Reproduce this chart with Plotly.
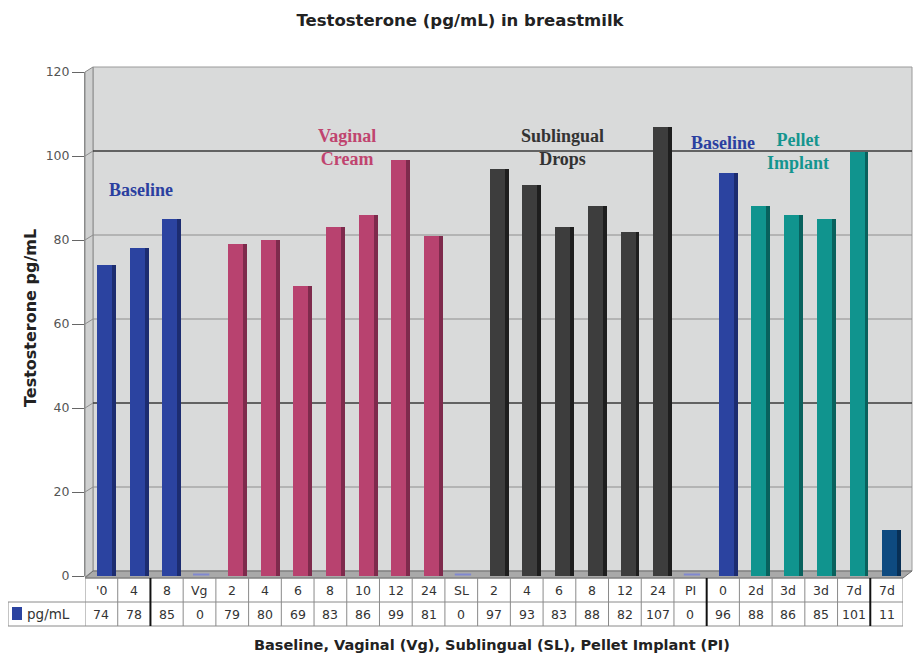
import plotly.graph_objects as go

# ---------------- data ----------------
categories = ["'0", "4", "8", "Vg", "2", "4", "6", "8", "10", "12", "24", "SL",
              "2", "4", "6", "8", "12", "24", "PI", "0", "2d", "3d", "3d", "7d", "7d"]
values = [74, 78, 85, 0, 79, 80, 69, 83, 86, 99, 81, 0,
          97, 93, 83, 88, 82, 107, 0, 96, 88, 86, 85, 101, 11]
groups = (["base"] * 3 + ["vg"] * 8 + ["sl"] * 7 + ["pi"] + ["base"] + ["pel"] * 4 + ["late"])
y_ticks = [0, 20, 40, 60, 80, 100, 120]
series_name = "pg/mL"
title_text = "Testosterone (pg/mL) in breastmilk"
x_title = "Baseline, Vaginal (Vg), Sublingual (SL), Pellet Implant (PI)"
y_title = "Testosterone pg/mL"

# ---------------- style ----------------
front_col = {"base": "#2b43a0", "vg": "#b8426f", "sl": "#3d3d3d", "pi": "#7a84c8",
             "pel": "#10948e", "late": "#0e4a80"}
side_col = {"base": "#1c2c70", "vg": "#7e2a4c", "sl": "#1e1e1e", "pi": "#5a64a8",
            "pel": "#08615d", "late": "#082f55"}

OFF = 8                      # page body margin
W, H = 915, 651              # figure size
PLOT_L, PLOT_R, PLOT_T, PLOT_B = 85, 903, 72, 576   # plot area in window pixels
L = PLOT_L - OFF
R = OFF + W - PLOT_R
T = PLOT_T - OFF
B = OFF + H - PLOT_B
PW, PH = W - L - R, H - T - B


def px(x):
    return (x - PLOT_L) / PW


def py(y):
    return (PLOT_B - y) / PH


def ypix(v):
    return PLOT_B - v * PH / 120.0


fig = go.Figure()
xs = list(range(len(values)))
fig.add_bar(x=xs, y=values, width=0.46, offset=-0.134,
            marker=dict(color=[front_col[g] for g in groups], line=dict(width=0)),
            hoverinfo="skip", showlegend=False)
fig.add_bar(x=xs, y=values, width=0.12, offset=0.325,
            marker=dict(color=[side_col[g] for g in groups], line=dict(width=0)),
            hoverinfo="skip", showlegend=False)

shapes = []
# back wall
shapes.append(dict(type="rect", xref="paper", yref="paper", x0=px(93), x1=px(912),
                   y0=py(ypix(0) - 5), y1=py(ypix(120) - 5), fillcolor="#d9dada",
                   line=dict(color="#9a9a9a", width=1), layer="below"))
# left wall
shapes.append(dict(type="path", xref="paper", yref="paper",
                   path=f"M {px(85)},{py(ypix(0)+1)} L {px(93)},{py(ypix(0)-5)} L {px(93)},{py(ypix(120)-5)} L {px(85)},{py(ypix(120))} Z",
                   fillcolor="#cfd0d0", line=dict(color="#8a8a8a", width=1), layer="below"))
# floor
shapes.append(dict(type="path", xref="paper", yref="paper",
                   path=f"M {px(85)},{py(ypix(0)+2)} L {px(93)},{py(ypix(0)-5)} L {px(912)},{py(ypix(0)-5)} L {px(903)},{py(ypix(0)+2)} Z",
                   fillcolor="#a9a9a9", line=dict(color="#6f6f6f", width=1), layer="below"))
# gridlines on back wall + left wall slant
for v in y_ticks[1:-1]:
    dark = v in (40, 100)
    col = "#3a3a3a" if dark else "#8e8e8e"
    yb = py(ypix(v) - 5)
    shapes.append(dict(type="line", xref="paper", yref="paper", x0=px(93), x1=px(912),
                       y0=yb, y1=yb, line=dict(color=col, width=1.3 if dark else 1), layer="below"))
    shapes.append(dict(type="line", xref="paper", yref="paper", x0=px(85), x1=px(93),
                       y0=py(ypix(v)), y1=yb, line=dict(color="#8e8e8e", width=1), layer="below"))

# zero-value markers lying on the floor
for i, v in enumerate(values):
    if v == 0:
        shapes.append(dict(type="line", xref="x", yref="paper", x0=i - 0.2, x1=i + 0.3,
                           y0=py(ypix(0) - 1.5), y1=py(ypix(0) - 1.5),
                           line=dict(color="#8088d0", width=2)))

# data table
r0, r1, r2 = py(578), py(602), py(626)
n = len(values)
grid_c = "#8a8a8a"
shapes.append(dict(type="line", xref="x", yref="paper", x0=-0.5, x1=n - 0.5, y0=r0, y1=r0,
                   line=dict(color=grid_c, width=1)))
shapes.append(dict(type="line", xref="paper", yref="paper", x0=px(8), x1=px(PLOT_R), y0=r1, y1=r1,
                   line=dict(color=grid_c, width=1)))
shapes.append(dict(type="line", xref="paper", yref="paper", x0=px(8), x1=px(PLOT_R), y0=r2, y1=r2,
                   line=dict(color=grid_c, width=1)))
shapes.append(dict(type="line", xref="paper", yref="paper", x0=px(8), x1=px(8), y0=r1, y1=r2,
                   line=dict(color=grid_c, width=1)))
thick = {1.5, 18.5, 23.5}
for i in range(n + 1):
    xb = i - 0.5
    is_thick = xb in thick
    shapes.append(dict(type="line", xref="x", yref="paper", x0=xb, x1=xb, y0=r0, y1=r2,
                       line=dict(color="#111111" if is_thick else grid_c, width=2 if is_thick else 1)))
# legend swatch
shapes.append(dict(type="rect", xref="paper", yref="paper", x0=px(12), x1=px(22), y0=py(620), y1=py(607),
                   fillcolor="#2b43a0", line=dict(width=0)))

annotations = []
tfont = dict(family="DejaVu Sans", size=12.5, color="#333333")
for i, (c, v) in enumerate(zip(categories, values)):
    annotations.append(dict(x=i, y=(r0 + r1) / 2, xref="x", yref="paper", text=c, showarrow=False,
                            font=tfont, xanchor="center", yanchor="middle"))
    annotations.append(dict(x=i, y=(r1 + r2) / 2, xref="x", yref="paper", text=str(v), showarrow=False,
                            font=tfont, xanchor="center", yanchor="middle"))
annotations.append(dict(x=px(25), y=(r1 + r2) / 2, xref="paper", yref="paper", text=series_name,
                        showarrow=False, font=dict(family="DejaVu Sans", size=13.5, color="#333333"),
                        xanchor="left", yanchor="middle"))

# axis titles
annotations.append(dict(x=px(492), y=py(645), xref="paper", yref="paper", text=f"<b>{x_title}</b>",
                        showarrow=False, font=dict(family="DejaVu Sans", size=14.5, color="#222"),
                        xanchor="center", yanchor="middle"))
annotations.append(dict(x=px(30), y=py(318), xref="paper", yref="paper", text=f"<b>{y_title}</b>",
                        showarrow=False, textangle=-90, font=dict(family="DejaVu Sans", size=16, color="#222"),
                        xanchor="center", yanchor="middle"))

# group labels
serif = "Liberation Serif"
grp_labels = [
    ("Baseline", 1.2, 92, "#2b3fa0"),
    ("Vaginal<br>Cream", 7.5, 102, "#c0446f"),
    ("Sublingual<br>Drops", 14.1, 102, "#333333"),
    ("Baseline", 18.99, 103, "#2b3fa0"),
    ("Pellet<br>Implant", 21.3, 101, "#14958f"),
]
for txt, gx, gy, col in grp_labels:
    annotations.append(dict(x=gx, y=gy, xref="x", yref="y", text=f"<b>{txt}</b>", showarrow=False,
                            font=dict(family=serif, size=18, color=col), xanchor="center",
                            yanchor="middle", align="center"))

fig.update_layout(
    width=W, height=H,
    margin=dict(l=L, r=R, t=T, b=B),
    paper_bgcolor="white", plot_bgcolor="white",
    barmode="overlay", bargap=0,
    title=dict(text=f"<b>{title_text}</b>", x=(460 - OFF) / W, xanchor="center",
               y=1 - (20 - OFF) / H, yanchor="middle",
               font=dict(family="DejaVu Sans", size=16.5, color="#222")),
    xaxis=dict(range=[-0.5, n - 0.5], showticklabels=False, showgrid=False, zeroline=False,
               showline=False, fixedrange=True),
    yaxis=dict(range=[0, 120], tickvals=y_ticks, showgrid=False, zeroline=False,
               ticks="outside", ticklen=12, tickcolor="#666", showline=True, linecolor="#8a8a8a",
               tickfont=dict(family="DejaVu Sans", size=12.5, color="#555")),
    shapes=shapes, annotations=annotations,
)

fig.write_html("out.html")
